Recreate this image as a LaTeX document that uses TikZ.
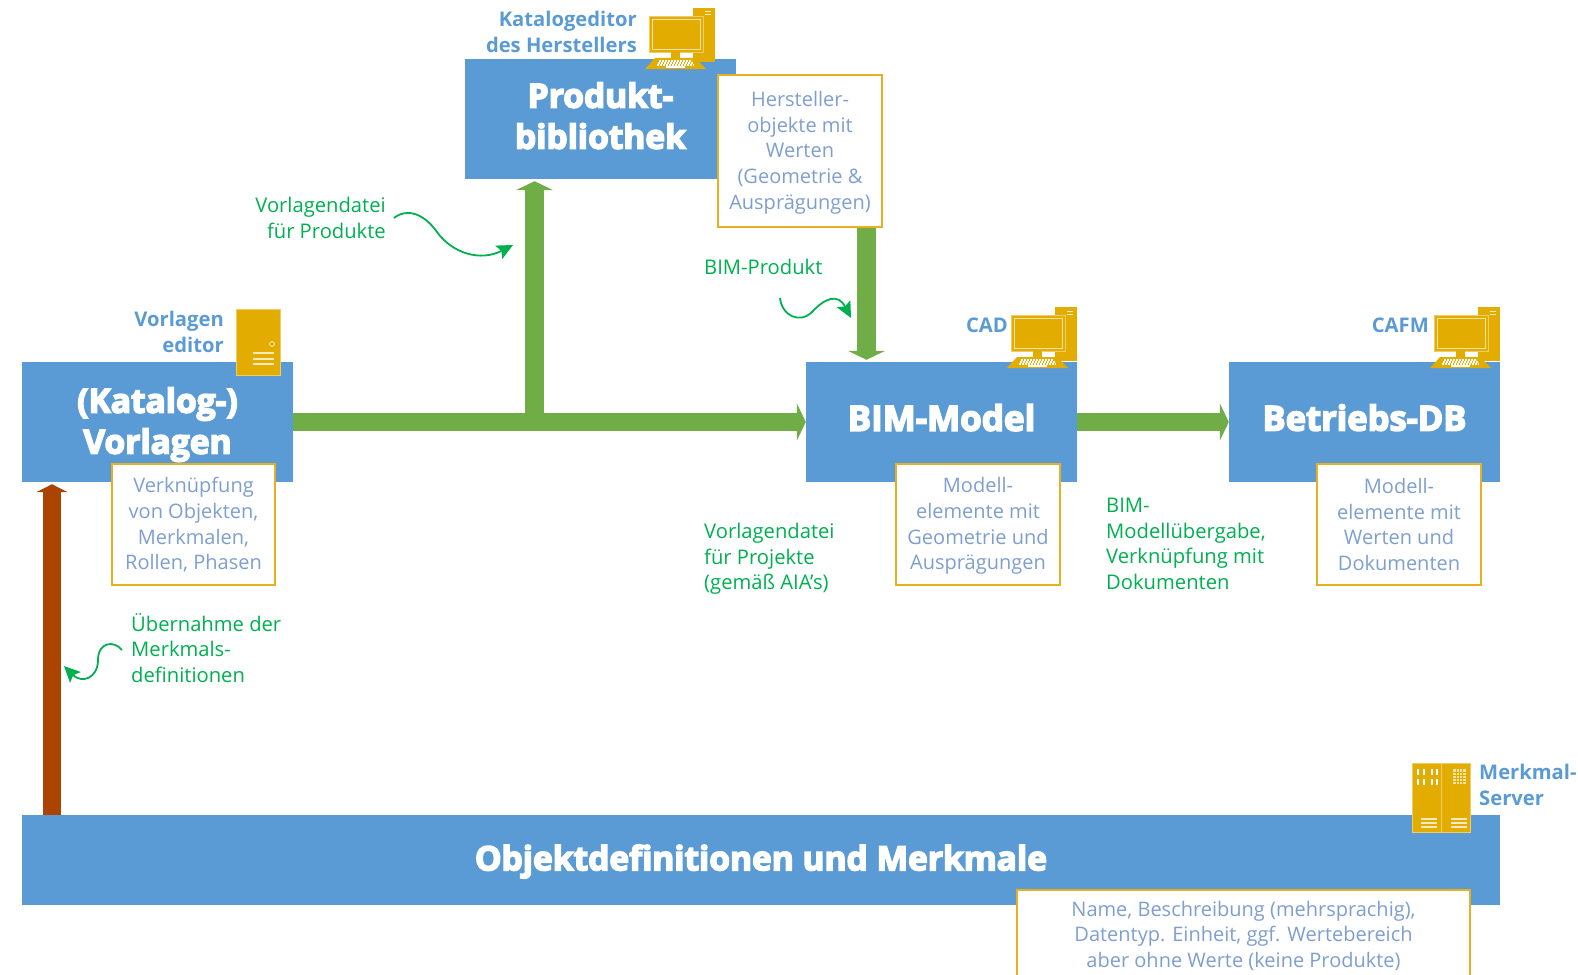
\documentclass[tikz,border=0pt]{standalone}
\usepackage{fontspec}
\setmainfont{Open Sans}
\newfontfamily\blk[BoldFeatures={FakeBold=4.5}]{Open Sans}
\usetikzlibrary{arrows.meta}
\definecolor{bl}{HTML}{5B9BD5}
\definecolor{gd}{HTML}{E2AC00}
\definecolor{gb}{HTML}{E8B020}
\definecolor{ar}{HTML}{70AD47}
\definecolor{br}{HTML}{AA4400}
\definecolor{tg}{HTML}{00B050}
\definecolor{tb}{HTML}{7F9FCF}
\tikzset{
 x=1pt,y=-1pt,
 title/.style={fill=bl,draw=none,inner sep=0pt,text=white,align=center,font=\blk\bfseries\fontsize{33.5}{41}\selectfont},
 info/.style={fill=white,draw=gb,line width=2.6pt,inner sep=0pt,text=tb,align=center,font=\fontsize{20}{25.6}\selectfont},
 lab/.style={inner sep=0pt,text=bl,font=\bfseries\fontsize{20.2}{25.6}\selectfont},
 grn/.style={inner sep=0pt,text=tg,font=\fontsize{20.2}{25.6}\selectfont},
 bigarrow/.style={draw=ar,line width=18.5pt,-{Triangle[width=37pt,length=9pt]}},
 brownarrow/.style={draw=br,line width=18pt,-{Triangle[width=31pt,length=8pt]}},
 curly/.style={draw=tg,line width=1.8pt,-{Stealth[length=16pt,width=15pt,inset=3pt]}},
 pcicon/.pic={
  \fill[gd] (48,0) rectangle (70,54);
  \draw[white,opacity=.8,line width=1pt] (60,4) -- (66,4) (60,7) -- (66,7);
  \draw[gd!60!white,line width=.8pt,fill=gd] (4,8) rectangle (58,44);
  \draw[gd!35!white,line width=.8pt] (7,11) rectangle (55,41);
  \fill[gd] (26,44) rectangle (35,50);
  \fill[gd] (10,50) -- (50,50) -- (61,61) -- (0,61) -- cycle;
  \foreach \yy/\aa/\bb in {53/14/47,55/13/48,57/12/49}{\draw[white,line width=1.1pt,dash pattern=on 2pt off 1pt] (\aa,\yy) -- (\bb,\yy);}
  \draw[white,line width=1.1pt] (21,59) -- (40,59);
 },
 towericon/.pic={
  \fill[gd,draw=gd!60!white,line width=.6pt] (0,0) rectangle (44,66);
  \draw[gd!25!white,line width=.8pt] (36,35) circle (2.4pt);
  \draw[gd!25!white,line width=1.1pt] (17,44) -- (38,44) (17,50) -- (38,50) (17,55) -- (38,55);
 },
 servericon/.pic={
  \fill[gd,draw=gd!60!white,line width=.8pt] (0,0) rectangle (29,69);
  \fill[gd,draw=gd!60!white,line width=.8pt] (29,0) rectangle (58,69);
  \foreach \xx in {6,12,20,25}{\draw[white,line width=1.5pt] (\xx,6) -- (\xx,12) (\xx,16) -- (\xx,22);}
  \fill[gd!35!white] (41,6) rectangle (54,21);
  \foreach \xx in {44,47,50}{\draw[gd,line width=.6pt] (\xx,6) -- (\xx,21);}
  \foreach \yy in {9,12,15,18}{\draw[gd,line width=.6pt] (41,\yy) -- (54,\yy);}
  \draw[gd!25!white,line width=1.1pt] (9,56) -- (25,56) (9,60) -- (25,60) (9,64) -- (25,64)
    (39,56) -- (55,56) (39,60) -- (55,60) (39,64) -- (55,64);
 },
}
\begin{document}
\begin{tikzpicture}
\useasboundingbox (0,0) rectangle (1578,974);
% boxes
\node[title,minimum width=271pt,minimum height=120pt] (produkt) at (600.5,119) {Produkt-\\bibliothek\\[-34pt]};
\node[title,minimum width=271pt,minimum height=120pt] (vorlagen) at (157.5,422) {(Katalog-)\\Vorlagen\\[-38pt]};
\node[title,minimum width=271pt,minimum height=120pt,font=\blk\bfseries\fontsize{35}{41}\selectfont] (bim) at (941.5,422) {BIM-Model\\[-32pt]};
\node[title,minimum width=271pt,minimum height=120pt,font=\blk\bfseries\fontsize{34.5}{41}\selectfont] (betrieb) at (1364.5,422) {Betriebs-DB\\[-32pt]};
\node[title,minimum width=1478pt,minimum height=90pt] (objekt) at (761,860) {Objektdefinitionen und Merkmale\\[-36pt]};
% connectors
\coordinate (junction) at (534.5,422);
\coordinate (upfoot) at (junction);
\coordinate (downx) at (866.5,300);
\coordinate (brownx) at (52,600);
\draw[bigarrow,shorten >=0pt] (vorlagen.east) -- (bim.west);
\draw[bigarrow,shorten >=2pt] (upfoot) -- (upfoot |- produkt.south);
\draw[brownarrow,shorten >=2pt] (brownx |- objekt.north) -- (brownx |- vorlagen.south);
% info boxes
\node[info,minimum width=164pt,minimum height=152pt] (herst) at (800,151) {Hersteller-\\objekte mit\\Werten\\(Geometrie \&\\Ausprägungen)\\[-24pt]};
\draw[bigarrow,shorten >=2pt] (downx |- herst.south) -- (downx |- bim.north);
\draw[bigarrow] (bim.east) -- (betrieb.west);
\node[info,minimum width=163pt,minimum height=121pt] (iv) at (193.5,524.5) {Verknüpfung\\von Objekten,\\Merkmalen,\\Rollen, Phasen\\[-24pt]};
\node[info,minimum width=164pt,minimum height=121pt] (ib) at (978,524.5) {Modell-\\elemente mit\\Geometrie und\\Ausprägungen\\[-24pt]};
\node[info,minimum width=164pt,minimum height=121pt] (ic) at (1399,524.5) {Modell-\\elemente mit\\Werten und\\Dokumenten};
\node[info,minimum width=453pt,minimum height=90pt] (io) at (1243.5,935) {Name, Beschreibung (mehrsprachig),\\Datentyp. Einheit, ggf. Wertebereich\\aber ohne Werte (keine Produkte)\\[-24pt]};
% icons
\pic at (645,8) {pcicon};
\pic at (1007,307) {pcicon};
\pic at (1430,307) {pcicon};
\pic at (236,309) {towericon};
\pic at (1412,763) {servericon};
% blue labels
\node[lab,anchor=east,align=right] (l1) at (637,32) {Katalogeditor\\des Herstellers};
\node[lab,anchor=east,align=right] (l2) at (224,332) {Vorlagen\\editor};
\node[lab,anchor=east] (l3) at (1008,325) {CAD};
\node[lab,anchor=east] (l4) at (1429,325) {CAFM};
\node[lab,anchor=west,align=left] (l5) at (1479,785) {Merkmal-\\Server};
% green labels
\node[grn,anchor=east,align=right] (g1) at (386,218) {Vorlagendatei\\für Produkte};
\node[grn,anchor=west] (g2) at (704,267) {BIM-Produkt};
\node[grn,anchor=west,align=left] (g3) at (704,559) {Vorlagendatei\\für Projekte\\(gemäß AIA's)};
\node[grn,anchor=west,align=left] (g4) at (1106,544) {BIM-\\Modellübergabe,\\Verknüpfung mit\\Dokumenten};
\node[grn,anchor=west,align=left] (g5) at (131,648) {Übernahme der\\Merkmals-\\definitionen};
% curly arrows
\coordinate (c1a) at (394,218);\coordinate (c1b) at (513,245);
\coordinate (c2a) at (780,298);\coordinate (c2b) at (851,318);
\coordinate (c3a) at (122,650);\coordinate (c3b) at (64,666);
\draw[curly] (c1a) .. controls (408,207) and (425,215) .. (437,232) .. controls (452,253) and (480,262) .. (c1b);
\draw[curly] (c2a) .. controls (782,316) and (800,324) .. (812,312) .. controls (825,298) and (838,293) .. (c2b);
\draw[curly] (c3a) .. controls (114,640) and (98,642) .. (98,660) .. controls (98,678) and (82,684) .. (c3b);
\end{tikzpicture}
\end{document}
